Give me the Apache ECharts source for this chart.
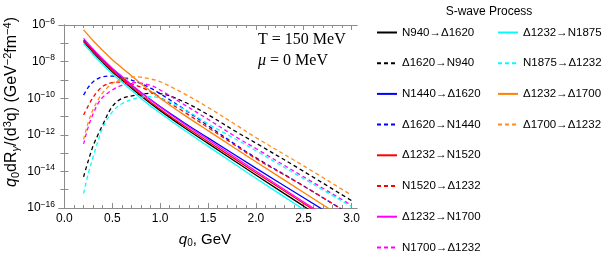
<!DOCTYPE html>
<html><head><meta charset="utf-8">
<script src="https://cdn.jsdelivr.net/npm/echarts@6/dist/echarts.min.js"></script>
<style>html,body{margin:0;padding:0;background:#fff}#c{width:611px;height:267px}</style>
</head><body><div id="c"></div>
<script>
// photon energy q0 (GeV) sample points
const qSolid  = [0.2, 0.3, 0.4, 0.5, 0.6, 0.8, 1.0, 1.25, 1.5, 2.0, 2.5, 3.0];
const qDashed = [0.2, 0.25, 0.3, 0.35, 0.4, 0.5, 0.6, 0.75, 0.9, 1.0, 1.25, 1.5, 1.8, 2.0, 2.5, 3.0];

// log10 of q0 dR/d3q (GeV^-2 fm^-4)
const logR_N940_D1620  = [-6.91, -7.50, -8.04, -8.55, -9.00, -9.88, -10.68, -11.60, -12.47, -14.20, -15.90, -17.60];
const logR_D1620_N940  = [-14.3, -13.4, -12.6, -12.0, -11.45, -10.45, -10.02, -9.83, -9.73, -9.75, -10.2, -10.9, -11.85, -12.45, -14.0, -15.6];
const logR_N1440_D1620 = [-6.82, -7.39, -7.92, -8.41, -8.85, -9.69, -10.46, -11.34, -12.17, -13.82, -15.44, -17.06];
const logR_D1620_N1440 = [-9.83, -9.4, -9.1, -8.93, -8.83, -8.79, -8.85, -9.1, -9.45, -9.75, -10.6, -11.5, -12.58, -13.25, -14.8, -16.4];
const logR_D1232_N1520 = [-6.87, -7.46, -7.99, -8.50, -8.94, -9.81, -10.60, -11.51, -12.37, -14.07, -15.75, -17.43];
const logR_N1520_D1232 = [-10.92, -10.4, -9.95, -9.6, -9.35, -9.15, -9.12, -9.3, -9.65, -9.95, -10.75, -11.6, -12.63, -13.3, -14.8, -16.4];
const logR_D1232_N1700 = [-6.73, -7.32, -7.86, -8.36, -8.81, -9.69, -10.48, -11.40, -12.26, -13.98, -15.67, -17.36];
const logR_N1700_D1232 = [-12.5, -11.55, -10.85, -10.3, -9.95, -9.55, -9.3, -9.15, -9.3, -9.55, -10.35, -11.15, -12.14, -12.75, -14.3, -15.85];
const logR_D1232_N1875 = [-7.02, -7.61, -8.16, -8.67, -9.12, -10.01, -10.81, -11.74, -12.62, -14.37, -16.08, -17.80];
const logR_N1875_D1232 = [-15.2, -14.1, -13.2, -12.35, -11.6, -10.75, -10.3, -10.0, -9.92, -10.0, -10.6, -11.4, -12.27, -12.87, -14.4, -15.92];
const logR_D1232_D1700 = [-6.27, -6.86, -7.39, -7.90, -8.34, -9.21, -10.00, -10.91, -11.77, -13.47, -15.15, -16.83];
const logR_D1700_D1232 = [-12.25, -11.3, -10.6, -10.1, -9.7, -9.2, -8.95, -8.83, -8.95, -9.1, -9.75, -10.5, -11.48, -12.15, -13.7, -15.3];

const seriesNames = ['N940→Δ1620','Δ1620→N940','N1440→Δ1620','Δ1620→N1440','Δ1232→N1520','N1520→Δ1232',
  'Δ1232→N1700','N1700→Δ1232','Δ1232→N1875','N1875→Δ1232','Δ1232→Δ1700','Δ1700→Δ1232'];
const seriesValues = [logR_N940_D1620, logR_D1620_N940, logR_N1440_D1620, logR_D1620_N1440, logR_D1232_N1520, logR_N1520_D1232,
  logR_D1232_N1700, logR_N1700_D1232, logR_D1232_N1875, logR_N1875_D1232, logR_D1232_D1700, logR_D1700_D1232];
const seriesColors = ['#000000','#000000','#0000ff','#0000ff','#ff0000','#ff0000','#ff00ff','#ff00ff','#00ffff','#00ffff','#ff8000','#ff8c1a'];

const xLabelTicks = [0, 0.5, 1.0, 1.5, 2.0, 2.5, 3.0];
const xMinorTicks = [0,0.1,0.2,0.3,0.4,0.5,0.6,0.7,0.8,0.9,1.0,1.1,1.2,1.3,1.4,1.5,1.6,1.7,1.8,1.9,2.0,2.1,2.2,2.3,2.4,2.5,2.6,2.7,2.8,2.9,3.0];

const FONT = 'Liberation Sans, Arial, sans-serif';
const AX = '#8c8c8c';
const XMIN = -0.057, XMAX = 3.057;

const series = seriesNames.map((n, i) => {
  const dashed = i % 2 === 1;
  const xs = dashed ? qDashed : qSolid;
  return {
    name: n, type: 'line', xAxisIndex: 0, yAxisIndex: 0,
    data: xs.map((x, j) => [x, seriesValues[i][j]]),
    smooth: 0.35, symbol: 'none', clip: true,
    lineStyle: { color: seriesColors[i], width: 1.3, type: dashed ? [4, 3] : 'solid' },
    itemStyle: { color: seriesColors[i] },
    emphasis: { disabled: true }, animation: false
  };
});

function xAx(pos, ticks, len, labels) {
  return {
    type: 'value', position: pos, min: XMIN, max: XMAX,
    axisLine: { show: true, lineStyle: { color: AX, width: 1 } },
    axisTick: { show: true, inside: true, length: len, customValues: ticks, lineStyle: { color: AX } },
    axisLabel: labels ? { show: true, customValues: xLabelTicks, formatter: v => v.toFixed(1), color: '#000', fontSize: 12, fontFamily: FONT, margin: 5 } : { show: false },
    splitLine: { show: false }
  };
}
function yAx(pos, labels) {
  return {
    type: 'value', position: pos, min: -16, max: -6, interval: 1,
    axisLine: { show: true, lineStyle: { color: AX, width: 1 } },
    axisTick: { show: true, inside: true, length: 4, lineStyle: { color: AX } },
    axisLabel: labels ? {
      show: true, margin: 4, color: '#000', fontFamily: FONT,
      formatter: v => (Math.round(v) % 2 === 0) ? '{b|10}{s|\u2212' + Math.abs(Math.round(v)) + '}' : '',
      rich: { b: { fontSize: 12, fontFamily: FONT, color: '#000' }, s: { fontSize: 8.5, fontFamily: FONT, color: '#000', padding: [0, 0, 7, 0] } }
    } : { show: false },
    splitLine: { show: false }
  };
}

const legendCommon = {
  orient: 'vertical', itemWidth: 20, itemHeight: 13, itemGap: 18.7, padding: 0,
  selectedMode: false,
  itemStyle: { opacity: 0 },
  textStyle: { fontSize: 11.5, fontFamily: FONT, color: '#000' }
};

const chart = echarts.init(document.getElementById('c'), null, { renderer: 'canvas' });
chart.setOption({
  animation: false,
  backgroundColor: '#fff',
  grid: { left: 59, right: 254, top: 25, bottom: 59 },
  xAxis: [xAx('bottom', xMinorTicks, 3, true), xAx('bottom', xLabelTicks, 5, false), xAx('top', xMinorTicks, 3, false), xAx('top', xLabelTicks, 5, false)],
  yAxis: [yAx('left', true), yAx('right', false)],
  legend: [
    Object.assign({}, legendCommon, { left: 376, top: 26.5, data: seriesNames.slice(0, 8) }),
    Object.assign({}, legendCommon, { left: 497, top: 26.5, data: seriesNames.slice(8) })
  ],
  graphic: [
    { type: 'text', x: 489, y: 12, style: { text: 'S-wave Process', font: '12px ' + FONT, fill: '#000', align: 'center', verticalAlign: 'middle' } },
    { type: 'text', x: 258, y: 40, style: { text: 'T = 150 MeV', font: '16px Liberation Serif, serif', fill: '#000', align: 'left', verticalAlign: 'middle' } },
    { type: 'text', x: 258, y: 61, style: { text: '{i|μ} = 0 MeV', font: '16px Liberation Serif, serif', fill: '#000', align: 'left', verticalAlign: 'middle',
      rich: { i: { fontStyle: 'italic', fontSize: 16, fontFamily: 'Liberation Serif, serif' } } } },
    { type: 'text', x: 205, y: 240, style: { text: '{i|q}{sub|0}, GeV', font: '15px ' + FONT, fill: '#000', align: 'center', verticalAlign: 'middle',
      rich: { i: { fontStyle: 'italic', fontSize: 15, fontFamily: FONT }, sub: { fontSize: 10, fontFamily: FONT, padding: [7, 0, 0, 0] } } } },
    { type: 'text', x: 12, y: 102, rotation: Math.PI / 2, style: {
      text: '{i|q}{sub|0}dR{subi|γ}/(d{sup|3}q) (GeV{sup|\u22122}fm{sup|\u22124})',
      font: '16px ' + FONT, fill: '#000', align: 'center', verticalAlign: 'middle',
      rich: { i: { fontStyle: 'italic', fontSize: 16, fontFamily: FONT },
              sub: { fontSize: 11, fontFamily: FONT, padding: [7, 0, 0, 0] },
              subi: { fontSize: 11, fontStyle: 'italic', fontFamily: FONT, padding: [7, 0, 0, 0] },
              sup: { fontSize: 11, fontFamily: FONT, padding: [0, 0, 8, 0] } } } }
  ],
  series: series
});
</script>
</body></html>
